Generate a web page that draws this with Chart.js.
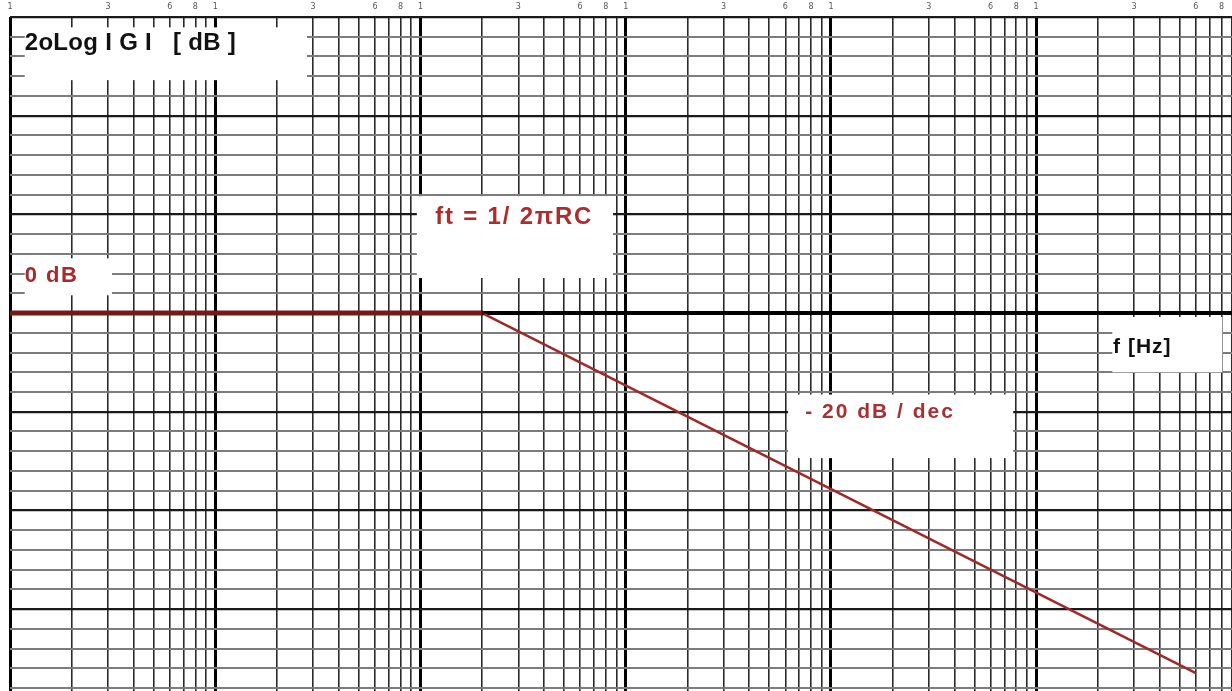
<!DOCTYPE html>
<html>
<head>
<meta charset="utf-8">
<script src="https://cdn.jsdelivr.net/npm/chart.js@4.4.1/dist/chart.umd.min.js"></script>
<style>
    html, body { margin: 0; padding: 0; background: #fff; }
</style>
</head>
<body>
<canvas id="bode" width="1232" height="691"></canvas>
<script>
// asymptotic magnitude of the RC low pass
var flatFreq = [1, 200];
var flatGain = [0, 0];
var slopeFreq = [200, 600000];
var slopeGain = [0, -73];

// semi-log paper
var decades = [1, 10, 100, 1000, 10000, 100000];
var mantissas = [1, 2, 3, 4, 5, 6, 7, 8, 9];
var labelledMantissas = [1, 3, 6, 8];
var freqMin = 1, freqMax = 900000;
var dbMin = -76.6, dbMax = 60;
var dbStep = 4, dbMajor = 20;

var xGrid = [];
decades.forEach(function (d) {
    mantissas.forEach(function (m) { xGrid.push(m * d); });
});
var yGrid = [];
for (var v = -76; v <= dbMax; v += dbStep) yGrid.push(v);

function mantissa(v) {
    return Math.round(v / Math.pow(10, Math.floor(Math.log10(v) + 1e-9)));
}

// white label boxes pasted on the paper (box: x1, x2, yTop, yBottom; at: x, y)
var notes = [
    { text: '2oLog I G I   [ dB ]', color: '#111', size: 24, spacing: 0.3,
      box: [1.18, 28, 57.9, 47.2], at: [1.18, 54.6] },
    { text: '0 dB', color: '#a82a2a', size: 22, spacing: 1.5,
      box: [1.18, 3.14, 11.1, 3.6], at: [1.18, 7.6] },
    { text: 'ft = 1/ 2\u03c0RC', color: '#b02c2c', size: 24, spacing: 1.8,
      box: [96, 868, 23.7, 7.1], at: [118, 19.4] },
    { text: 'f [Hz]', color: '#111', size: 21, spacing: 1,
      box: [235000, 806000, -0.8, -12.0], at: [237000, -6.9] },
    { text: '- 20 dB / dec', color: '#a83030', size: 21, spacing: 2,
      box: [6185, 77300, -16.5, -29.4], at: [7490, -20.1] }
];

var paperNotes = {
    id: 'paperNotes',
    beforeDatasetsDraw: function (chart) {
        var ctx = chart.ctx;
        var xs = chart.scales.x, ys = chart.scales.y;
        notes.forEach(function (n) {
            var l = xs.getPixelForValue(n.box[0]), r = xs.getPixelForValue(n.box[1]);
            var t = ys.getPixelForValue(n.box[2]), b = ys.getPixelForValue(n.box[3]);
            ctx.save();
            ctx.fillStyle = '#fff';
            ctx.fillRect(l, t, r - l, b - t);
            ctx.font = 'bold ' + n.size + 'px "Liberation Sans", Arial, sans-serif';
            ctx.letterSpacing = n.spacing + 'px';
            ctx.fillStyle = n.color;
            ctx.textAlign = 'left';
            ctx.textBaseline = 'middle';
            ctx.fillText(n.text, xs.getPixelForValue(n.at[0]), ys.getPixelForValue(n.at[1]));
            ctx.restore();
        });
    }
};

function toPoints(xsArr, ysArr) {
    return xsArr.map(function (f, i) { return { x: f, y: ysArr[i] }; });
}

new Chart(document.getElementById('bode'), {
    type: 'line',
    data: {
        datasets: [{
            label: 'flat',
            data: toPoints(flatFreq, flatGain),
            borderColor: '#741818',
            borderWidth: 5,
            pointRadius: 0,
            tension: 0
        }, {
            label: 'slope',
            data: toPoints(slopeFreq, slopeGain),
            borderColor: '#a02828',
            borderWidth: 2.5,
            pointRadius: [2.5, 0],
            pointBackgroundColor: '#3a0a0a',
            pointBorderWidth: 0,
            tension: 0
        }]
    },
    options: {
        responsive: false,
        animation: false,
        layout: { padding: 0, autoPadding: false },
        plugins: {
            legend: { display: false },
            tooltip: { enabled: false }
        },
        scales: {
            x: {
                type: 'logarithmic',
                position: 'top',
                min: freqMin,
                max: freqMax,
                afterBuildTicks: function (scale) {
                    scale.ticks = xGrid.map(function (v) { return { value: v }; });
                },
                afterFit: function (scale) {
                    scale.height = 17;
                    scale.paddingLeft = 0;
                    scale.paddingRight = 0;
                },
                ticks: {
                    autoSkip: false,
                    maxRotation: 0,
                    padding: 5,
                    color: '#555',
                    font: { size: 8, family: 'DejaVu Sans' },
                    callback: function (value) {
                        return labelledMantissas.indexOf(mantissa(value)) >= 0 ? String(mantissa(value)) : '';
                    }
                },
                border: { display: false },
                grid: {
                    drawTicks: false,
                    color: function (c) {
                        return c.tick && mantissa(c.tick.value) === 1 ? '#000' : '#2a2a2a';
                    },
                    lineWidth: function (c) {
                        return c.tick && mantissa(c.tick.value) === 1 ? 3 : 1.6;
                    }
                }
            },
            y: {
                type: 'linear',
                min: dbMin,
                max: dbMax,
                afterBuildTicks: function (scale) {
                    scale.ticks = yGrid.map(function (v) { return { value: v }; });
                },
                afterFit: function (scale) {
                    scale.width = 10;
                    scale.paddingTop = 0;
                    scale.paddingBottom = 0;
                },
                ticks: { display: false },
                border: { display: false },
                grid: {
                    drawTicks: false,
                    color: function (c) {
                        var v = c.tick ? c.tick.value : 1;
                        if (v === 0) return '#000';
                        return v % dbMajor === 0 ? '#1a1a1a' : '#7c7c7c';
                    },
                    lineWidth: function (c) {
                        var v = c.tick ? c.tick.value : 1;
                        if (v === 0) return 4;
                        return v % dbMajor === 0 ? 2.2 : 2;
                    }
                }
            }
        }
    },
    plugins: [paperNotes]
});
</script>
</body>
</html>
